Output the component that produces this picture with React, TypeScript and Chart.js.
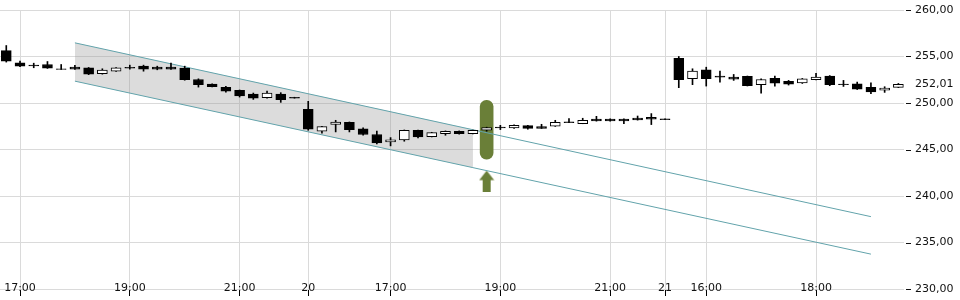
import React, { useEffect, useRef } from 'react';
import { Chart, registerables } from 'chart.js';

Chart.register(...registerables);

// OHLC of 15-minute candles (index = candle number)
const openP = [
  255.64, 254.32, 254.08, 254.14, 253.68, 253.85, 253.79, 253.15, 253.42, 253.83,
  253.96, 253.85, 253.85, 253.75, 252.53, 252.03, 251.68, 251.36, 250.96, 250.57,
  250.96, 250.62, 249.32, 246.96, 247.71, 247.93, 247.21, 246.61, 245.82, 246.03,
  247.07, 246.39, 246.71, 246.96, 246.71, 247.07, 247.40, 247.32, 247.57, 247.46,
  247.50, 247.97, 247.79, 248.28, 248.28, 248.28, 248.39, 248.47, 248.29, 254.79,
  252.61, 253.57, 252.90, 252.78, 252.86, 251.97, 252.64, 252.32, 252.15, 252.50,
  252.89, 252.04, 252.07, 251.68, 251.39, 251.68,
];
const highP = [
  256.18, 254.50, 254.28, 254.46, 254.14, 254.04, 253.82, 253.68, 253.82, 254.07,
  254.07, 253.96, 254.28, 253.96, 252.60, 252.05, 251.78, 251.40, 251.07, 251.28,
  251.11, 250.62, 250.18, 247.50, 248.14, 247.96, 247.32, 246.99, 246.28, 247.10,
  247.10, 246.85, 247.00, 247.00, 247.10, 247.40, 247.60, 247.65, 247.60, 247.71,
  248.14, 248.32, 248.36, 248.57, 248.30, 248.30, 248.60, 248.86, 248.29, 255.00,
  253.68, 253.85, 253.42, 253.07, 252.90, 252.60, 252.89, 252.43, 252.64, 253.18,
  252.95, 252.43, 252.25, 252.18, 251.75, 252.10,
];
const lowP = [
  254.40, 253.90, 253.79, 253.72, 253.60, 253.60, 253.05, 253.10, 253.40, 253.64,
  253.42, 253.57, 253.60, 252.45, 251.71, 251.72, 251.17, 250.64, 250.39, 250.53,
  250.07, 250.52, 247.07, 246.75, 246.89, 246.89, 246.55, 245.60, 245.39, 245.89,
  246.24, 246.35, 246.53, 246.65, 246.68, 246.96, 247.14, 247.28, 247.18, 247.26,
  247.48, 247.89, 247.77, 248.05, 248.05, 247.79, 248.16, 247.68, 248.21, 251.65,
  251.97, 251.82, 252.25, 252.43, 251.83, 251.07, 251.82, 251.93, 252.10, 252.47,
  251.86, 251.78, 251.45, 251.00, 251.14, 251.66,
];
const closeP = [
  254.50, 253.96, 254.00, 253.75, 253.60, 253.64, 253.10, 253.53, 253.79, 253.75,
  253.64, 253.64, 253.64, 252.50, 251.97, 251.75, 251.28, 250.75, 250.53, 251.07,
  250.36, 250.52, 247.18, 247.46, 247.96, 247.14, 246.61, 245.71, 246.03, 247.07,
  246.35, 246.82, 246.96, 246.69, 247.07, 247.36, 247.32, 247.60, 247.28, 247.28,
  247.93, 247.89, 248.14, 248.07, 248.07, 248.07, 248.18, 248.25, 248.21, 252.50,
  253.43, 252.61, 252.78, 252.57, 251.86, 252.53, 252.14, 252.03, 252.60, 252.78,
  251.97, 251.96, 251.50, 251.18, 251.61, 252.01,
];

const xTickIdx = [1, 9, 17, 22, 28, 36, 44, 48, 51, 59];
const xTickLabels = ['17:00', '19:00', '21:00', '20', '17:00', '19:00', '21:00', '21', '16:00', '18:00'];
const yTicks = [230, 235, 240, 245, 250, 252.01, 255, 260];
const lastPrice = 252.01;

const channelX = [5, 63];
const channelUpper = [256.47, 237.78];
const channelLower = [252.35, 233.75];
const shadeX = [5, 34];
const shadeUpper = [256.47, 247.15];
const shadeLower = [252.35, 243.05];

const signalIdx = 35;
const signalRange = [243.96, 250.28];
const arrowValue = 241.6;

const GREEN = '#6a7f38';
const TEAL = '#62a3ab';
const GRID = '#dadada';
const FONT = { family: 'DejaVu Sans', size: 11 };

function makeArrow(): HTMLCanvasElement {
  const c = document.createElement('canvas');
  c.width = 16;
  c.height = 21;
  const g = c.getContext('2d')!;
  g.fillStyle = GREEN;
  g.beginPath();
  g.moveTo(0.5, 9.5);
  g.lineTo(8, 0);
  g.lineTo(15.5, 9.5);
  g.closePath();
  g.fill();
  g.fillRect(4, 9, 8, 12);
  return c;
}

// short tick dashes in front of the right-axis labels
const yTickDashes = {
  id: 'yTickDashes',
  afterDraw(chart: any) {
    const s = chart.scales.y;
    const ctx = chart.ctx;
    ctx.save();
    ctx.fillStyle = '#111111';
    s.ticks.forEach((t: any) => {
      if (t.value === lastPrice) return;
      const y = Math.round(s.getPixelForValue(t.value));
      ctx.fillRect(s.left + 2, y, 5, 1);
    });
    ctx.restore();
  },
};

export default function App() {
  const ref = useRef<HTMLCanvasElement | null>(null);

  useEffect(() => {
    if (!ref.current) return;
    const idx = openP.map((_, i) => i);
    const bodies = idx.map((i) => ({ x: i, y: [openP[i], closeP[i]] }));
    const wicks = idx.map((i) => ({ x: i, y: [lowP[i], highP[i]] }));
    const bodyColors = idx.map((i) => (closeP[i] > openP[i] ? '#ffffff' : '#000000'));

    const chart = new Chart(ref.current, {
      type: 'bar',
      plugins: [yTickDashes],
      data: {
        datasets: [
          {
            type: 'bar',
            data: bodies as any,
            backgroundColor: bodyColors,
            borderColor: '#000000',
            borderWidth: 1,
            borderSkipped: false,
            barThickness: 10,
            grouped: false,
            order: 1,
          } as any,
          {
            type: 'bar',
            data: wicks as any,
            backgroundColor: '#000000',
            borderWidth: 0,
            barThickness: 1,
            grouped: false,
            order: 2,
          } as any,
          {
            type: 'line',
            data: channelX.map((x, i) => ({ x, y: channelUpper[i] })),
            borderColor: TEAL,
            borderWidth: 1,
            pointRadius: 0,
            fill: false,
            order: 3,
          },
          {
            type: 'line',
            data: channelX.map((x, i) => ({ x, y: channelLower[i] })),
            borderColor: TEAL,
            borderWidth: 1,
            pointRadius: 0,
            fill: false,
            order: 3,
          },
          {
            type: 'bar',
            data: [{ x: signalIdx, y: signalRange }] as any,
            backgroundColor: GREEN,
            borderWidth: 0,
            borderRadius: 7,
            borderSkipped: false,
            barThickness: 13,
            grouped: false,
            order: 4,
          } as any,
          {
            type: 'line',
            data: [{ x: signalIdx, y: arrowValue }],
            showLine: false,
            pointStyle: makeArrow(),
            pointRadius: 5,
            order: 4,
          } as any,
          {
            type: 'line',
            data: shadeX.map((x, i) => ({ x, y: shadeUpper[i] })),
            borderColor: 'transparent',
            borderWidth: 0,
            pointRadius: 0,
            backgroundColor: 'rgba(150,150,150,0.33)',
            fill: '+1',
            order: 5,
          },
          {
            type: 'line',
            data: shadeX.map((x, i) => ({ x, y: shadeLower[i] })),
            borderColor: 'transparent',
            borderWidth: 0,
            pointRadius: 0,
            fill: false,
            order: 6,
          },
        ],
      },
      options: {
        responsive: false,
        animation: false,
        devicePixelRatio: 1,
        layout: { autoPadding: false, padding: { top: 10, left: 0, right: 0, bottom: 0 } },
        plugins: { legend: { display: false }, tooltip: { enabled: false } },
        scales: {
          x: {
            type: 'linear',
            min: -0.4576,
            max: 65.41,
            offset: false,
            border: { display: false },
            grid: {
              offset: false,
              color: GRID,
              tickColor: '#000000',
              tickLength: 7,
              drawTicks: true,
            },
            ticks: {
              autoSkip: false,
              maxRotation: 0,
              minRotation: 0,
              mirror: true,
              padding: -6,
              color: '#111111',
              font: FONT,
              callback: (v: any) => {
                const k = xTickIdx.indexOf(Number(v));
                return k >= 0 ? xTickLabels[k] : '';
              },
            },
            afterBuildTicks: (axis: any) => {
              axis.ticks = xTickIdx.map((v) => ({ value: v }));
            },
            afterFit: (axis: any) => {
              axis.height = 11;
              axis.paddingLeft = 0;
              axis.paddingRight = 0;
            },
          },
          y: {
            type: 'linear',
            position: 'right',
            min: 230,
            max: 260,
            border: { display: false },
            grid: {
              color: (ctx: any) => (ctx.tick && ctx.tick.value === lastPrice ? 'transparent' : GRID),
              drawTicks: false,
            },
            ticks: {
              autoSkip: false,
              padding: 11,
              color: '#111111',
              font: FONT,
              callback: (v: any) => Number(v).toFixed(2).replace('.', ','),
            },
            afterBuildTicks: (axis: any) => {
              axis.ticks = yTicks.map((v) => ({ value: v }));
            },
            afterFit: (axis: any) => {
              axis.width = 56;
              axis.paddingTop = 0;
              axis.paddingBottom = 0;
            },
          },
        },
      } as any,
    });
    return () => chart.destroy();
  }, []);

  return (
    <div style={{ position: 'fixed', left: 0, top: 0, width: 960, height: 300, background: '#fff' }}>
      <canvas ref={ref} width={960} height={300} style={{ display: 'block', width: 960, height: 300 }} />
    </div>
  );
}
